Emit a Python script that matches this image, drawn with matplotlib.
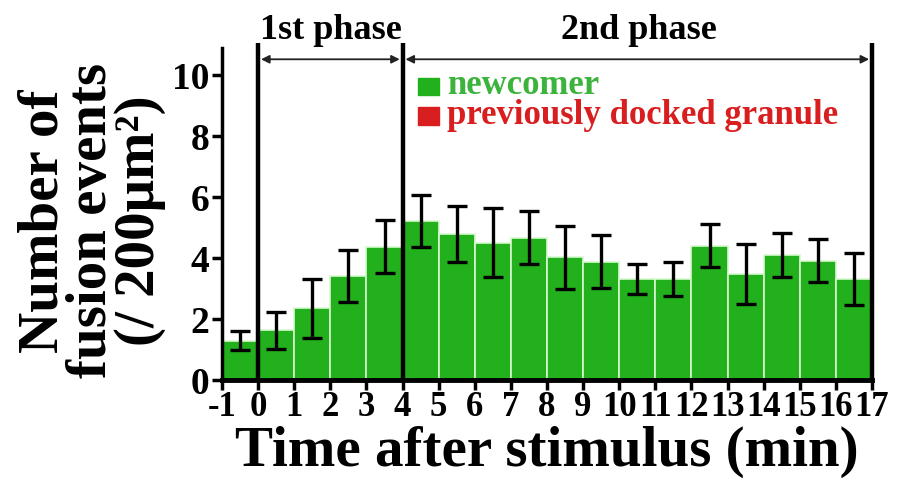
import matplotlib

matplotlib.use("Agg")
import matplotlib.pyplot as plt
from matplotlib.patches import Rectangle
import numpy as np

# 1-min bins from -1 to 17 min after stimulus
bin_start = list(range(-1, 17))
newcomer = [1.30, 1.63, 2.35, 3.42, 4.38, 5.22, 4.78, 4.51, 4.67, 4.03,
            3.89, 3.32, 3.33, 4.41, 3.48, 4.10, 3.92, 3.33]
sem = [0.32, 0.62, 0.97, 0.85, 0.86, 0.86, 0.92, 1.13, 0.86, 1.04,
       0.87, 0.50, 0.56, 0.71, 0.97, 0.72, 0.71, 0.85]
xticks = list(range(-1, 18))
yticks = [0, 2, 4, 6, 8, 10]
phase_edges = [0, 4, 17]
legend_labels = ["newcomer", "previously docked granule"]

GREEN = "#22b11c"
RED = "#d81e1e"
plt.rcParams["font.family"] = ["Liberation Serif", "DejaVu Serif"]
plt.rcParams["font.weight"] = "bold"

fig = plt.figure(figsize=(8.99, 4.8), dpi=100)
ax = fig.add_axes([0.247, 0.208, 0.723, 0.692])

centers = np.array(bin_start) + 0.5
ax.bar(centers, newcomer, width=1.0, color=GREEN, edgecolor="#d8f8d0",
       linewidth=1.2, zorder=2)
ax.errorbar(centers, newcomer, yerr=sem, fmt="none", ecolor="black",
            elinewidth=2.4, capsize=7, capthick=2.4, zorder=3)

ax.set_xlim(-1, 17)
ax.set_ylim(0, 10.89)
ax.set_xticks(xticks)
ax.set_xticklabels([str(t) for t in xticks], fontsize=25, fontweight="bold")
ax.set_yticks(yticks)
ax.set_yticklabels([str(t) for t in yticks], fontsize=27, fontweight="bold")
ax.tick_params(axis="both", direction="out", length=7, width=2.5, pad=2)
ax.tick_params(axis="x", pad=1)

for s in ("top", "right"):
    ax.spines[s].set_visible(False)
ax.spines["left"].set_linewidth(2.5)
ax.spines["bottom"].set_linewidth(3.5)

# phase boundaries
for xe in phase_edges:
    ax.plot([xe, xe], [0, 11.05], color="black", lw=3.2, clip_on=False,
            zorder=4, solid_capstyle="butt")

arrow_y = 10.52
for a, b in zip(phase_edges[:-1], phase_edges[1:]):
    ax.annotate("", xy=(a + 0.08, arrow_y), xytext=(b - 0.08, arrow_y),
                arrowprops=dict(arrowstyle="<|-|>", color="#222222", lw=1.3,
                                mutation_scale=12, shrinkA=0, shrinkB=0),
                annotation_clip=False)

ax.text(2.0, 11.2, "1st phase", ha="center", va="baseline", fontsize=26,
        fontweight="bold", clip_on=False)
ax.text(10.55, 11.2, "2nd phase", ha="center", va="baseline", fontsize=26,
        fontweight="bold", clip_on=False)

# legend: coloured squares + coloured text
for i, (lab, sq, tc) in enumerate(zip(legend_labels, [GREEN, RED],
                                      ["#3cb43c", RED])):
    y0 = 9.38 - i * 0.98
    ax.add_patch(Rectangle((4.43, y0 - 0.04), 0.57, 0.58, color=sq,
                           zorder=5, clip_on=False))
    ax.text(5.22, y0, lab, color=tc, fontsize=25, fontweight="bold",
            va="baseline")

# axis labels
fig.text(0.608, 0.005, "Time after stimulus (min)", ha="center",
         va="bottom", fontsize=41, fontweight="bold")
ylab_lines = ["Number of", "fusion events", "(/ 200\u03bcm\u00b2)"]
for i, line in enumerate(ylab_lines):
    fig.text(0.048 + i * 0.054, 0.54, line, rotation=90, ha="center",
             va="center", fontsize=41, fontweight="bold")

fig.savefig("out.png", dpi=100)
